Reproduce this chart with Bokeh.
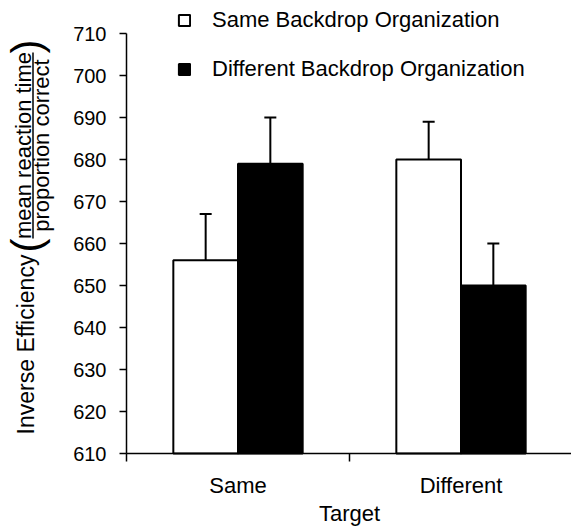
import numpy as np
from bokeh.plotting import figure
from bokeh.models import (ColumnDataSource, FixedTicker, Whisker, TeeHead, Label,
                          Legend, LegendItem, Arrow, Range1d)
from bokeh.embed import file_html
from bokeh.resources import INLINE

# ---------------- data ----------------
targets = ["Same", "Different"]
series = ["Same Backdrop Organization", "Different Backdrop Organization"]
same_backdrop = [656, 680]
same_backdrop_err = [11, 9]
diff_backdrop = [679, 650]
diff_backdrop_err = [11, 10]
y_ticks = list(range(610, 711, 10))
y_title = "Inverse Efficiency"
frac_num = "mean reaction time"
frac_den = "proportion correct"
x_title = "Target"

FONT = "Liberation Sans"
Y0, Y1 = 610, 710
W, H = 571, 528
AX_X, PX_PER_X = 126, 223.0      # pixel of x=0, pixels per category
AX_Y, PX_PER_Y = 33, 4.2         # pixel of y=710, pixels per unit

p = figure(width=W, height=H, output_backend="svg", toolbar_location=None,
           x_range=Range1d(-AX_X / PX_PER_X, (W - AX_X) / PX_PER_X),
           y_range=Range1d(Y1 - (H - AX_Y) / PX_PER_Y, Y1 + AX_Y / PX_PER_Y),
           min_border_left=0, min_border_right=0, min_border_top=0,
           min_border_bottom=0)
p.outline_line_color = None
p.xgrid.visible = False
p.ygrid.visible = False
p.background_fill_color = "white"
p.border_fill_color = "white"

centers = np.arange(len(targets)) + 0.5
off = 0.145
bw = 0.29

src_a = ColumnDataSource(dict(x=centers - off, top=same_backdrop,
                              upper=np.add(same_backdrop, same_backdrop_err)))
src_b = ColumnDataSource(dict(x=centers + off, top=diff_backdrop,
                              upper=np.add(diff_backdrop, diff_backdrop_err)))

r1 = p.vbar(x="x", top="top", bottom=Y0, width=bw, source=src_a,
            fill_color="white", line_color="black", line_width=2)
r2 = p.vbar(x="x", top="top", bottom=Y0, width=bw, source=src_b,
            fill_color="black", line_color="black", line_width=2)

for s in (src_a, src_b):
    w = Whisker(source=s, base="x", upper="upper", lower="top",
                line_color="black", line_width=2,
                upper_head=TeeHead(size=12, line_width=2, line_color="black"),
                lower_head=None)
    p.add_layout(w)

# ---------------- axes ----------------
xa = p.xaxis[0]
xa.fixed_location = Y0
xa.bounds = (0, len(targets))
xa.ticker = FixedTicker(ticks=[float(c) for c in centers],
                        minor_ticks=[float(v) for v in range(len(targets) + 1)])
xa.major_label_overrides = {float(c): t for c, t in zip(centers, targets)}
xa.major_tick_out = 0
xa.major_tick_in = 0
xa.minor_tick_out = 8
xa.minor_tick_in = 0
xa.minor_tick_line_color = "black"
xa.minor_tick_line_width = 1.5
xa.axis_line_color = "black"
xa.axis_line_width = 1.5
xa.major_label_text_font = FONT
xa.major_label_text_font_size = "22px"
xa.major_label_text_color = "black"
xa.major_label_standoff = 11

ya = p.yaxis[0]
ya.fixed_location = 0
ya.bounds = (Y0, Y1)
ya.ticker = FixedTicker(ticks=y_ticks)
ya.major_tick_out = 7
ya.major_tick_in = 0
ya.minor_tick_out = 0
ya.minor_tick_in = 0
ya.major_tick_line_color = "black"
ya.major_tick_line_width = 1.5
ya.axis_line_color = "black"
ya.axis_line_width = 1.5
ya.major_label_text_font = FONT
ya.major_label_text_font_size = "20px"
ya.major_label_text_color = "black"
ya.major_label_standoff = 13


def px_x(wx):
    return (wx - AX_X) / PX_PER_X


def px_y(wy):
    return Y1 - (wy - AX_Y) / PX_PER_Y


MID = 0.3465  # em-box middle above the alphabetic baseline (Liberation Sans)

# ---------------- axis titles ----------------
p.add_layout(Label(x=px_x(349), y=px_y(521 - MID * 22), text=x_title,
                   text_align="center", text_baseline="middle", text_font=FONT,
                   text_font_size="22px", text_color="black"))


def vlabel(text, base_px, center_py, size):
    return Label(x=px_x(base_px - MID * size), y=px_y(center_py), text=text,
                 angle=np.pi / 2, text_align="center", text_baseline="middle",
                 text_font=FONT, text_font_size=f"{size}px", text_color="black")


p.add_layout(vlabel(y_title, 33, 344, 23))
p.add_layout(vlabel("(", 30 + 0.259 * 42, 245, 42))
p.add_layout(vlabel(")", 30 + 0.259 * 42, 46, 42))
p.add_layout(vlabel(frac_num, 31, 145, 22))
p.add_layout(vlabel(frac_den, 49, 145, 22))
p.add_layout(Arrow(x_start=px_x(32.5), y_start=px_y(238), x_end=px_x(32.5),
                   y_end=px_y(52), start=None, end=None,
                   line_color="black", line_width=1.5))

# ---------------- legend ----------------
legend = Legend(items=[LegendItem(label=series[0], renderers=[r1]),
                       LegendItem(label=series[1], renderers=[r2])],
                location=(177, 446), orientation="vertical",
                glyph_width=14, glyph_height=14, label_height=20, spacing=23,
                label_standoff=21, padding=0, margin=0,
                border_line_color=None, background_fill_alpha=0,
                label_text_font=FONT, label_text_font_size="22px",
                label_text_color="black")
p.add_layout(legend, "center")

open("out.html", "w").write(file_html(p, INLINE))
